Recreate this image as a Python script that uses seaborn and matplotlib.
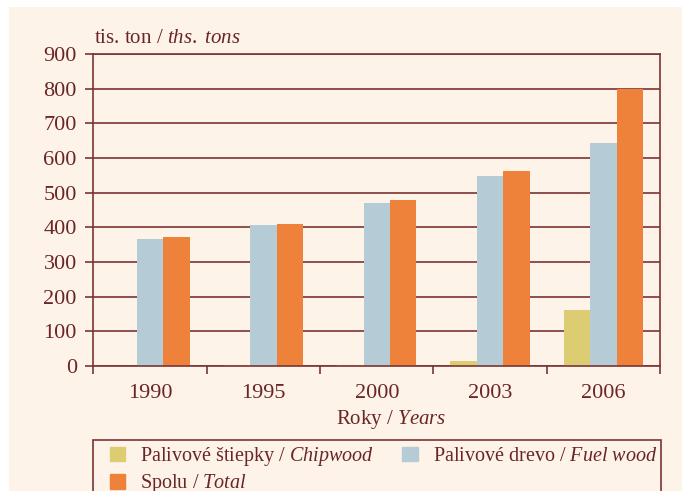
import matplotlib
matplotlib.use("Agg")
import matplotlib.pyplot as plt
import matplotlib.patches as mpatches
import matplotlib.ticker as mticker
import pandas as pd
import seaborn as sns

YEARS = ["1990", "1995", "2000", "2003", "2006"]
CHIPWOOD = [0, 4, 4, 13, 161]
FUEL_WOOD = [366, 407, 470, 548, 643]
TOTAL = [372, 410, 479, 562, 800]

SERIES = ["Chipwood", "Fuel wood", "Total"]
LABELS = {
    "Chipwood": r"Palivové štiepky / $\it{Chipwood}$",
    "Fuel wood": r"Palivové drevo / $\it{Fuel\ wood}$",
    "Total": r"Spolu / $\it{Total}$",
}
COLORS = {"Chipwood": "#DCCD72", "Fuel wood": "#B5CBD6", "Total": "#EE823B"}

INK = "#6A2626"
GRID = "#7A3434"
PANEL = "#FEF3E8"


def configure_style() -> None:
    sns.set_theme(style="white")
    plt.rcParams["font.family"] = ["Liberation Serif", "DejaVu Serif"]
    plt.rcParams["mathtext.fontset"] = "custom"
    plt.rcParams["mathtext.rm"] = "Liberation Serif"
    plt.rcParams["mathtext.it"] = "Liberation Serif:italic"
    plt.rcParams["text.color"] = INK
    plt.rcParams["axes.labelcolor"] = INK
    plt.rcParams["xtick.color"] = INK
    plt.rcParams["ytick.color"] = INK


def main() -> None:
    configure_style()
    df = pd.DataFrame({
        "year": YEARS * 3,
        "series": ["Chipwood"] * 5 + ["Fuel wood"] * 5 + ["Total"] * 5,
        "value": CHIPWOOD + FUEL_WOOD + TOTAL,
    })

    fig = plt.figure(figsize=(6.82, 4.91), dpi=100, facecolor="white")
    fig.patches.append(mpatches.Rectangle(
        (9 / 682, 0), 1, 1 - 7 / 491, transform=fig.transFigure,
        facecolor=PANEL, edgecolor="none", zorder=-10))

    ax = fig.add_axes([93.5 / 682, 1 - 366 / 491, 566.5 / 682, 312 / 491])
    ax.set_facecolor(PANEL)
    sns.barplot(data=df, x="year", y="value", hue="series", hue_order=SERIES,
                order=YEARS, palette=COLORS, width=0.70, gap=0,
                saturation=1, legend=False, ax=ax)
    for p in ax.patches:
        p.set_edgecolor("none")

    ax.set_ylim(0, 900)
    ax.set_xlim(-0.5, 4.5)
    ax.yaxis.set_major_locator(mticker.MultipleLocator(100))
    ax.set_axisbelow(True)
    ax.grid(axis="y", color=GRID, linewidth=1.2)
    ax.grid(axis="x", visible=False)
    for s in ax.spines.values():
        s.set_color(GRID)
        s.set_linewidth(1.2)

    ax.tick_params(axis="y", which="major", direction="out", length=6,
                   width=1.2, color=GRID, pad=6, labelsize=16, left=True)
    ax.tick_params(axis="x", which="major", length=0, pad=13, labelsize=16)
    ax.xaxis.set_minor_locator(mticker.FixedLocator([-0.5, 0.5, 1.5, 2.5, 3.5, 4.5]))
    ax.tick_params(axis="x", which="minor", direction="out", length=6,
                   width=1.2, color=GRID, bottom=True)

    ax.set_ylabel("")
    ax.set_xlabel(r"Roky / $\it{Years}$", fontsize=15)
    ax.xaxis.set_label_coords(0.525, -0.135)
    fig.text(94 / 682, 1 - 43 / 491, r"tis. ton / $\it{ths.\ tons}$",
             fontsize=15, ha="left", va="baseline", color=INK)

    # legend frame (runs past the bottom edge)
    fig.patches.append(mpatches.Rectangle(
        (92.6 / 682, -0.05), (661 - 92.6) / 682, 0.05 + 1 - 440 / 491,
        transform=fig.transFigure, facecolor="none", edgecolor=GRID,
        linewidth=1.2, zorder=5))
    handles = [mpatches.Patch(color=COLORS[s], label=LABELS[s])
               for s in ["Chipwood", "Total", "Fuel wood"]]
    fig.legend(handles=handles, loc="upper left",
               bbox_to_anchor=(110 / 682, 1 - 445 / 491), ncol=2,
               frameon=False, fontsize=14.5, borderpad=0, borderaxespad=0,
               handlelength=0.75, handleheight=0.75, handletextpad=0.75,
               columnspacing=1.4, labelspacing=0.22, labelcolor=INK)

    fig.savefig("out.png", dpi=100, facecolor="white")
    plt.close(fig)


if __name__ == "__main__":
    main()
